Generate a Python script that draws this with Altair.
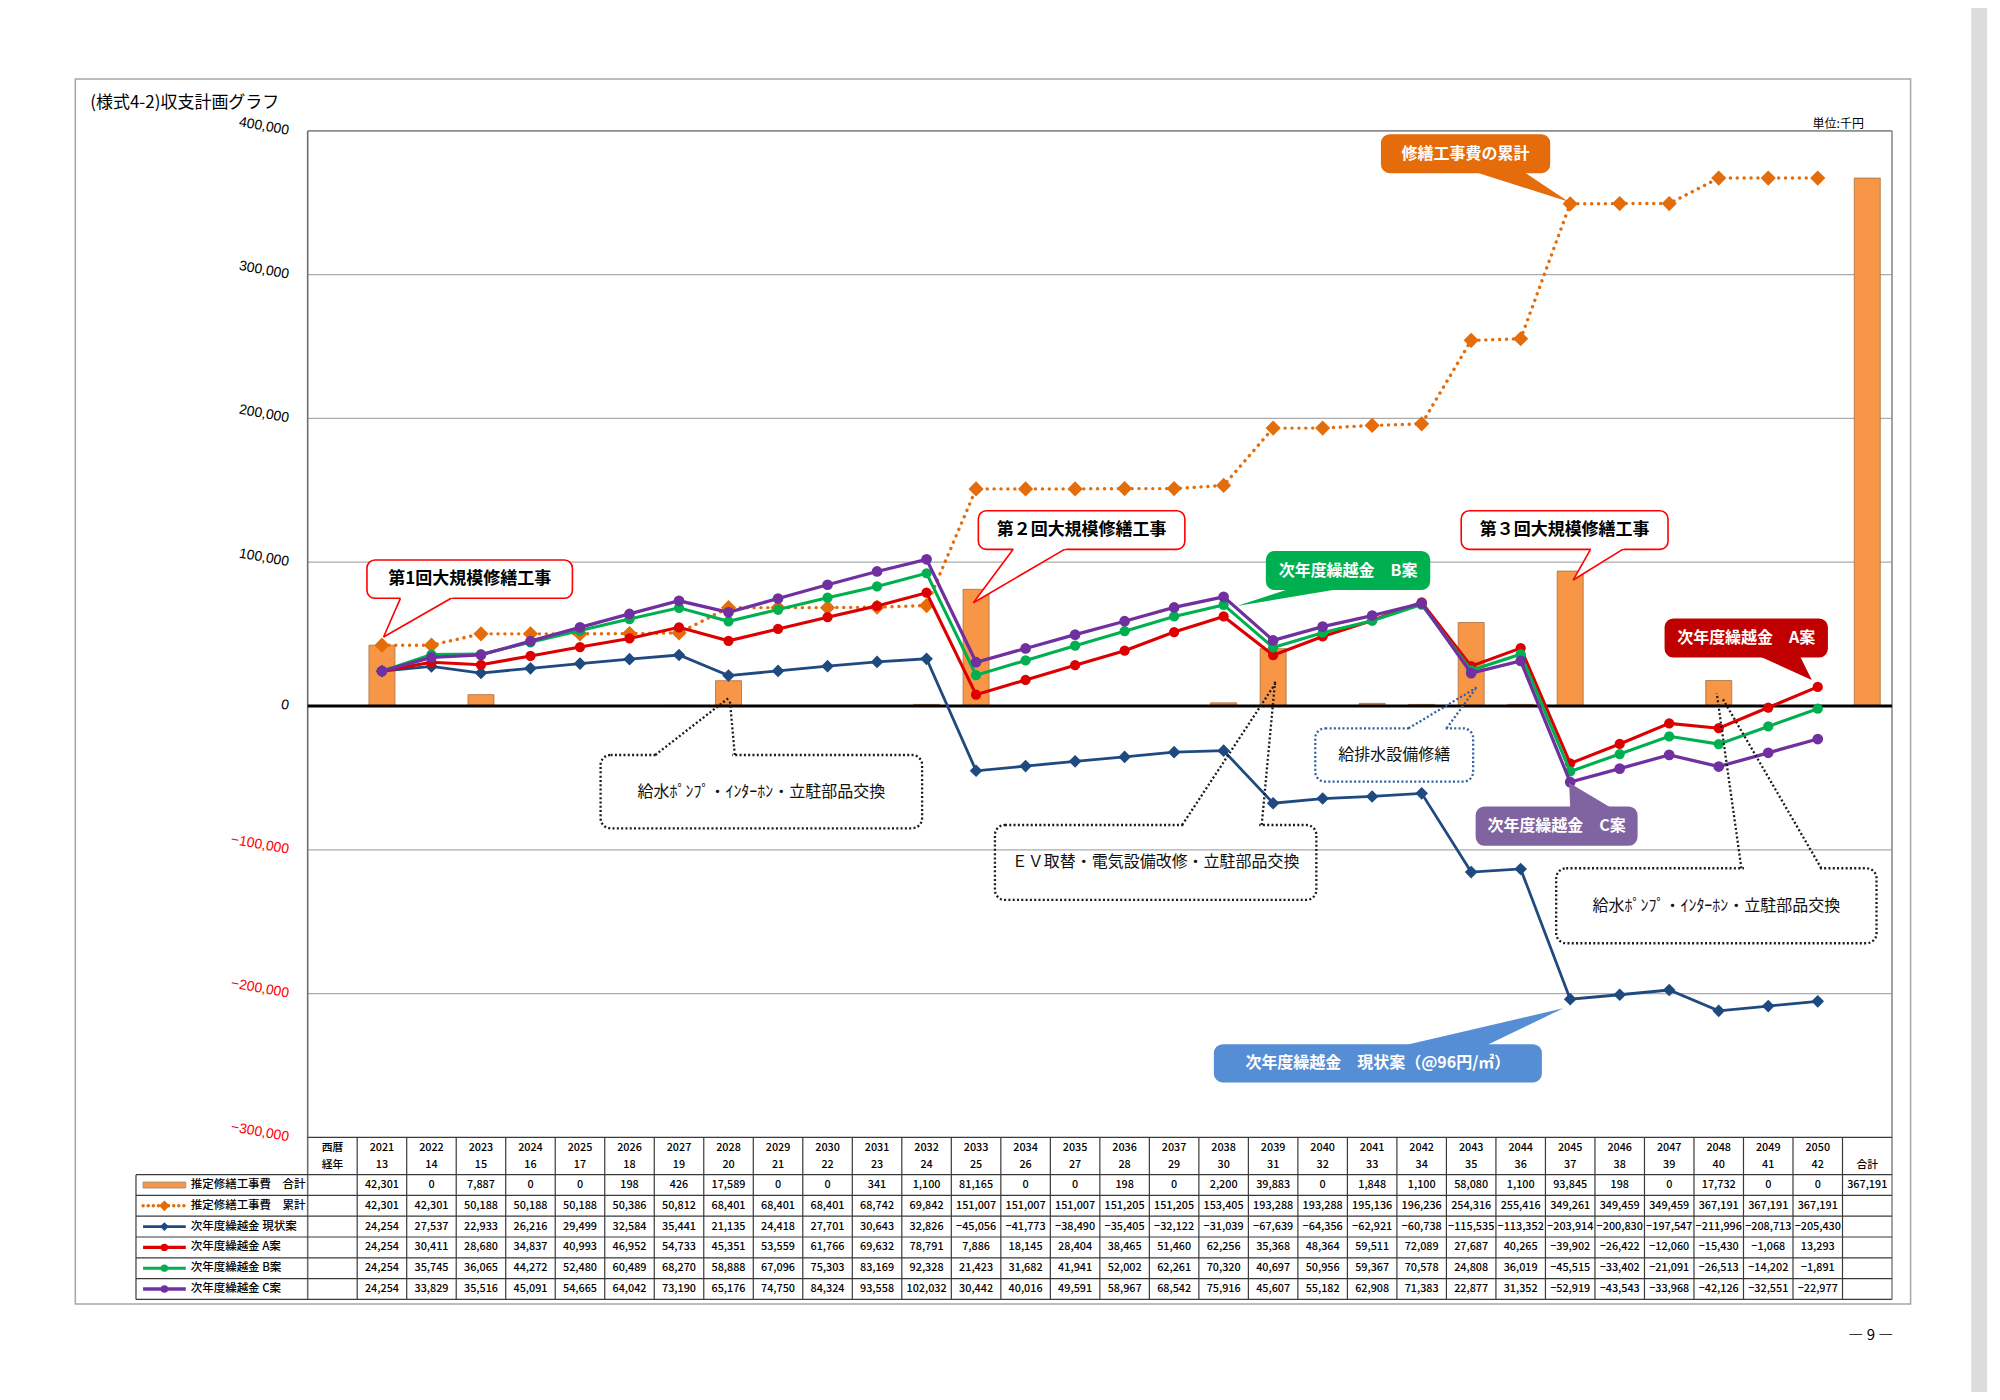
import altair as alt
import pandas as pd

# ---------------- data ----------------
years = list(range(2021, 2051))
ages = list(range(13, 43))
repair_cost = [42301, 0, 7887, 0, 0, 198, 426, 17589, 0, 0, 341, 1100, 81165, 0, 0,
               198, 0, 2200, 39883, 0, 1848, 1100, 58080, 1100, 93845, 198, 0, 17732, 0, 0]
repair_total = 367191
repair_cum = [42301, 42301, 50188, 50188, 50188, 50386, 50812, 68401, 68401, 68401,
              68742, 69842, 151007, 151007, 151007, 151205, 151205, 153405, 193288, 193288,
              195136, 196236, 254316, 255416, 349261, 349459, 349459, 367191, 367191, 367191]
carry_now = [24254, 27537, 22933, 26216, 29499, 32584, 35441, 21135, 24418, 27701,
             30643, 32826, -45056, -41773, -38490, -35405, -32122, -31039, -67639, -64356,
             -62921, -60738, -115535, -113352, -203914, -200830, -197547, -211996, -208713, -205430]
carry_a = [24254, 30411, 28680, 34837, 40993, 46952, 54733, 45351, 53559, 61766,
           69632, 78791, 7886, 18145, 28404, 38465, 51460, 62256, 35368, 48364,
           59511, 72089, 27687, 40265, -39902, -26422, -12060, -15430, -1068, 13293]
carry_b = [24254, 35745, 36065, 44272, 52480, 60489, 68270, 58888, 67096, 75303,
           83169, 92328, 21423, 31682, 41941, 52002, 62261, 70320, 40697, 50956,
           59367, 70578, 24808, 36019, -45515, -33402, -21091, -26513, -14202, -1891]
carry_c = [24254, 33829, 35516, 45091, 54665, 64042, 73190, 65176, 74750, 84324,
           93558, 102032, 30442, 40016, 49591, 58967, 68542, 75916, 45607, 55182,
           62908, 71383, 22877, 31352, -52919, -43543, -33968, -42126, -32551, -22977]
row_labels = ["推定修繕工事費　合計", "推定修繕工事費　累計", "次年度繰越金 現状案",
              "次年度繰越金 A案", "次年度繰越金 B案", "次年度繰越金 C案"]
y_ticks = [400000, 300000, 200000, 100000, 0, -100000, -200000, -300000]
grid_values = [300000, 200000, 100000, -100000, -200000]

# ---------------- layout constants ----------------
JP = "Noto Sans CJK JP"
SLOT_PX = 49.8
VPP = 100000 / 143.8          # value units per pixel
X_LEFT = -3.468
X_RIGHT = 32
Y_TOP = 400000
TABLE_TOP = -300000
HEADER_H = 37.3 * VPP
ROW_H = 20.8 * VPP
Y_BOTTOM = TABLE_TOP - HEADER_H - 6 * ROW_H
W = (X_RIGHT - X_LEFT) * SLOT_PX
H = (Y_TOP - Y_BOTTOM) / VPP

XS = alt.Scale(domain=[X_LEFT, X_RIGHT], nice=False, zero=False)
YS = alt.Scale(domain=[Y_BOTTOM, Y_TOP], nice=False, zero=False)


def sx(f):
    return alt.X(f, type="quantitative", scale=XS, axis=None)


def sy(f):
    return alt.Y(f, type="quantitative", scale=YS, axis=None)


def fmt(v):
    s = f"{abs(v):,}"
    return ("−" + s) if v < 0 else s


xc = [i + 1.5 for i in range(30)]
layers = []

# page edge shade at the right
shade_df = pd.DataFrame({"x": [33.6], "x2": [33.92], "y": [485396], "y2": [-477051]})
layers.append(alt.Chart(shade_df).mark_rect(color="#DCDCDC")
              .encode(x=sx("x"), x2=alt.X2("x2"), y=sy("y"), y2=alt.Y2("y2")))

# outer page frame
frame_df = pd.DataFrame({"x": [-4.693], "x2": [32.375], "y": [436022], "y2": [-415855]})
layers.append(alt.Chart(frame_df).mark_rect(filled=False, stroke="#A6A6A6", strokeWidth=1.5)
              .encode(x=sx("x"), x2=alt.X2("x2"), y=sy("y"), y2=alt.Y2("y2")))

# gridlines
grid_df = pd.DataFrame({"y": grid_values, "x": 0, "x2": 32})
layers.append(alt.Chart(grid_df).mark_rule(color="#ABABAB", strokeWidth=1.3)
              .encode(x=sx("x"), x2=alt.X2("x2"), y=sy("y")))

# plot borders
border_df = pd.DataFrame({
    "x": [0, 32, 0], "x2": [32, 32, 0],
    "y": [Y_TOP, Y_TOP, Y_TOP], "y2": [Y_TOP, Y_BOTTOM, Y_BOTTOM],
    "c": ["#8C8C8C", "#8C8C8C", "#6E6E6E"]})
layers.append(alt.Chart(border_df).mark_rule(strokeWidth=1.6)
              .encode(x=sx("x"), x2=alt.X2("x2"), y=sy("y"), y2=alt.Y2("y2"),
                      stroke=alt.Stroke("c:N", scale=None)))

# y tick labels (rotated, negatives in red)
tick_df = pd.DataFrame({"x": -0.38, "y": y_ticks,
                        "t": [fmt(v) for v in y_ticks],
                        "c": ["#FF0000" if v < 0 else "#000000" for v in y_ticks]})
layers.append(alt.Chart(tick_df).mark_text(font="Liberation Sans", fontSize=14, angle=10,
                                           align="right", baseline="middle")
              .encode(x=sx("x"), y=sy("y"), text="t:N", color=alt.Color("c:N", scale=None)))

# bars
bars_df = pd.DataFrame({"x": xc + [31.5], "v": repair_cost + [repair_total]})
layers.append(alt.Chart(bars_df).mark_bar(size=26, color="#F79646", stroke="#A8703F", strokeWidth=0.8)
              .encode(x=sx("x"), y=sy("v"), y2=alt.datum(0)))

# zero line
zero_df = pd.DataFrame({"x": [0], "x2": [32], "y": [0]})
layers.append(alt.Chart(zero_df).mark_rule(color="#000000", strokeWidth=3)
              .encode(x=sx("x"), x2=alt.X2("x2"), y=sy("y")))


def series(vals, color, shape, size, width, dash=None):
    df = pd.DataFrame({"x": xc, "v": vals})
    kw = dict(color=color, strokeWidth=width)
    if dash:
        kw.update(strokeDash=dash, strokeCap="round")
    ln = alt.Chart(df).mark_line(**kw).encode(x=sx("x"), y=sy("v"))
    pt = alt.Chart(df).mark_point(filled=True, shape=shape, size=size, color=color, opacity=1) \
        .encode(x=sx("x"), y=sy("v"))
    return [ln, pt]


styles = [
    (repair_cum, "#E46C0A", "diamond", 230, 3.4, [0.1, 6.8]),
    (carry_now, "#1F4A80", "diamond", 160, 2.8, None),
    (carry_a, "#DD0000", "circle", 105, 3.1, None),
    (carry_b, "#00B050", "circle", 105, 3.1, None),
    (carry_c, "#7030A0", "circle", 115, 3.3, None),
]
for s in styles:
    layers += series(*s)

# ---------------- callouts ----------------
INSET = 2.5 * VPP
callouts = [
    dict(t="第1回大規模修繕工事", x1=1.197, x2=5.347, yt=101528, yb=74895, fill="#FFFFFF",
         stroke="#FF0000", base=(1.873, 2.898), edge="bottom", tip=(1.532, 47983), tc="#000000", fs=17),
    dict(t="第２回大規模修繕工事", x1=13.546, x2=17.717, yt=135812, yb=108969, fill="#FFFFFF",
         stroke="#FF0000", base=(14.249, 15.287), edge="bottom", tip=(13.446, 71835), tc="#000000", fs=17),
    dict(t="第３回大規模修繕工事", x1=23.299, x2=27.476, yt=135812, yb=108969, fill="#FFFFFF",
         stroke="#FF0000", base=(25.91, 26.56), edge="bottom", tip=(25.56, 87620), tc="#000000", fs=17),
    dict(t="修繕工事費の累計", x1=21.693, x2=25.080, yt=397073, yb=371135, fill="#E46C0A",
         stroke="#E46C0A", base=(23.610, 24.576), edge="bottom", tip=(25.468, 350690), tc="#FFFFFF", fs=16),
    dict(t="次年度繰越金　B案", x1=19.369, x2=22.657, yt=107300, yb=81153, fill="#00B050",
         stroke="#00B050", base=(19.8, 20.8), edge="bottom", tip=(18.769, 69540), tc="#FFFFFF", fs=16),
    dict(t="次年度繰越金　A案", x1=27.422, x2=30.689, yt=60291, yb=34283, fill="#C00000",
         stroke="#C00000", base=(29.343, 30.147), edge="bottom", tip=(30.380, 18080), tc="#FFFFFF", fs=16),
    dict(t="次年度繰越金　C案", x1=23.606, x2=26.845, yt=-70444, yb=-96661, fill="#8064A2",
         stroke="#8064A2", base=(25.500, 26.307), edge="top", tip=(25.478, -53337), tc="#FFFFFF", fs=16),
    dict(t="次年度繰越金　現状案（@96円/㎡）", x1=18.319, x2=24.912, yt=-235741, yb=-261262,
         fill="#558ED5", stroke="#558ED5", base=(22.181, 23.821), edge="top", tip=(25.361, -210219),
         tc="#FFFFFF", fs=16),
]

box_rows, tri_rows, side_rows, txt_rows = [], [], [], []
for i, c in enumerate(callouts):
    box_rows.append(dict(x=c["x1"], x2=c["x2"], y=c["yt"], y2=c["yb"], f=c["fill"], s=c["stroke"]))
    ey = c["yb"] if c["edge"] == "bottom" else c["yt"]
    tx, ty = c["tip"]
    k = INSET / abs(ey - ty)
    ey2 = ey + (ey - ty) * k
    xa, xb = c["base"]
    xa2 = xa + (xa - tx) * k
    xb2 = xb + (xb - tx) * k
    tri_rows.append(dict(id=i, y=ey2, x=min(xa2, xb2), x2=max(xa2, xb2), f=c["fill"]))
    tri_rows.append(dict(id=i, y=ty, x=tx, x2=tx, f=c["fill"]))
    if c["fill"] == "#FFFFFF":
        side_rows.append(dict(x=xa, y=ey, x2=tx, y2=ty, s=c["stroke"]))
        side_rows.append(dict(x=xb, y=ey, x2=tx, y2=ty, s=c["stroke"]))
    txt_rows.append(dict(x=(c["x1"] + c["x2"]) / 2, y=(c["yt"] + c["yb"]) / 2, t=c["t"],
                         tc=c["tc"], fs=c["fs"]))

layers.append(alt.Chart(pd.DataFrame(box_rows)).mark_rect(cornerRadius=8, strokeWidth=1.6)
              .encode(x=sx("x"), x2=alt.X2("x2"), y=sy("y"), y2=alt.Y2("y2"),
                      fill=alt.Fill("f:N", scale=None), stroke=alt.Stroke("s:N", scale=None)))
layers.append(alt.Chart(pd.DataFrame(tri_rows)).mark_area(orient="horizontal")
              .encode(y=sy("y"), x=alt.X("x", type="quantitative", scale=XS, axis=None, stack=None),
                      x2=alt.X2("x2"), detail="id:N", fill=alt.Fill("f:N", scale=None)))
layers.append(alt.Chart(pd.DataFrame(side_rows)).mark_rule(strokeWidth=1.6)
              .encode(x=sx("x"), x2=alt.X2("x2"), y=sy("y"), y2=alt.Y2("y2"),
                      stroke=alt.Stroke("s:N", scale=None)))
layers.append(alt.Chart(pd.DataFrame(txt_rows)).mark_text(font=JP, fontWeight="bold", baseline="middle",
                                                           align="center")
              .encode(x=sx("x"), y=sy("y"), text="t:N", color=alt.Color("tc:N", scale=None),
                      size=alt.Size("fs:Q", scale=None)))

# dotted callouts
dboxes = [
    dict(t="給水ﾎﾟﾝﾌﾟ・ｲﾝﾀｰﾎﾝ・立駐部品交換", x1=5.916, x2=12.410, yt=-34075, yb=-85047, c="#1A1A1A",
         gap=(7.020, 8.627), tips=[(8.494, 5355), (8.526, 4172)]),
    dict(t="ＥＶ取替・電気設備改修・立駐部品交換", x1=13.881, x2=20.373, yt=-82753, yb=-134908, c="#1A1A1A",
         gap=(17.663, 19.269), tips=[(19.570, 16898), (19.538, 16898)]),
    dict(t="給排水設備修繕", x1=20.351, x2=23.540, yt=-15507, yb=-52641, c="#2E5FA3",
         gap=(22.235, 23.004), tips=[(23.618, 13004), (23.580, 11613)]),
    dict(t="給水ﾎﾟﾝﾌﾟ・ｲﾝﾀｰﾎﾝ・立駐部品交換", x1=25.217, x2=31.687, yt=-112862, yb=-165020, c="#1A1A1A",
         gap=(28.958, 30.572), tips=[(28.460, 8832), (28.574, 5355)]),
]
db_rows, gap_rows, dl_rows, dt_rows = [], [], [], []
for d in dboxes:
    db_rows.append(dict(x=d["x1"], x2=d["x2"], y=d["yt"], y2=d["yb"], s=d["c"]))
    gap_rows.append(dict(x=d["gap"][0] + 0.05, x2=d["gap"][1] - 0.05, y=d["yt"]))
    for gx, (tx, ty) in zip(d["gap"], d["tips"]):
        dl_rows.append(dict(x=gx, y=d["yt"], x2=tx, y2=ty, s=d["c"]))
    dt_rows.append(dict(x=(d["x1"] + d["x2"]) / 2, y=(d["yt"] + d["yb"]) / 2, t=d["t"]))

layers.append(alt.Chart(pd.DataFrame(db_rows)).mark_rect(filled=False, cornerRadius=10, strokeWidth=2.3,
                                                         strokeDash=[2, 2.3])
              .encode(x=sx("x"), x2=alt.X2("x2"), y=sy("y"), y2=alt.Y2("y2"),
                      stroke=alt.Stroke("s:N", scale=None)))
layers.append(alt.Chart(pd.DataFrame(gap_rows)).mark_rule(color="#FFFFFF", strokeWidth=5)
              .encode(x=sx("x"), x2=alt.X2("x2"), y=sy("y")))
layers.append(alt.Chart(pd.DataFrame(dl_rows)).mark_rule(strokeWidth=2.3, strokeDash=[2, 2.3])
              .encode(x=sx("x"), x2=alt.X2("x2"), y=sy("y"), y2=alt.Y2("y2"),
                      stroke=alt.Stroke("s:N", scale=None)))
layers.append(alt.Chart(pd.DataFrame(dt_rows)).mark_text(font=JP, fontSize=16, color="#111111",
                                                         baseline="middle", align="center")
              .encode(x=sx("x"), y=sy("y"), text="t:N"))

# ---------------- data table ----------------
HDR_BOTTOM = TABLE_TOP - HEADER_H
tl = [dict(x=0, x2=32, y=TABLE_TOP, y2=TABLE_TOP)]
for r in range(7):
    yy = HDR_BOTTOM - r * ROW_H
    tl.append(dict(x=X_LEFT, x2=32, y=yy, y2=yy))
tl.append(dict(x=X_LEFT, x2=X_LEFT, y=HDR_BOTTOM, y2=Y_BOTTOM))
for k in range(1, 32):
    tl.append(dict(x=k, x2=k, y=TABLE_TOP, y2=Y_BOTTOM))
layers.append(alt.Chart(pd.DataFrame(tl)).mark_rule(color="#3A3A3A", strokeWidth=1.2)
              .encode(x=sx("x"), x2=alt.X2("x2"), y=sy("y"), y2=alt.Y2("y2")))

L1 = TABLE_TOP - 10.4 * VPP
L2 = TABLE_TOP - 27.7 * VPP
hdr = [dict(x=0.5, y=L1, t="西暦"), dict(x=0.5, y=L2, t="経年"), dict(x=31.5, y=L2, t="合計")]
for i in range(30):
    hdr.append(dict(x=xc[i], y=L1, t=str(years[i])))
    hdr.append(dict(x=xc[i], y=L2, t=str(ages[i])))
rows = [repair_cost, repair_cum, carry_now, carry_a, carry_b, carry_c]


def row_y(r):
    return HDR_BOTTOM - (r + 0.5) * ROW_H


cells = []
for r, vals in enumerate(rows):
    for i, v in enumerate(vals):
        cells.append(dict(x=xc[i], y=row_y(r), t=fmt(v)))
cells.append(dict(x=31.5, y=row_y(0), t=fmt(repair_total)))
layers.append(alt.Chart(pd.DataFrame(hdr + cells)).mark_text(font=JP, fontSize=10.8, color="#000000",
                                                              fontWeight=500, baseline="middle",
                                                              align="center")
              .encode(x=sx("x"), y=sy("y"), text="t:N"))

# legend column
SYM_X1, SYM_X2, SYM_XC, LAB_X = -3.325, -2.462, -2.894, -2.363
lab_df = pd.DataFrame({"x": LAB_X, "y": [row_y(r) for r in range(6)], "t": row_labels})
layers.append(alt.Chart(lab_df).mark_text(font=JP, fontSize=11.5, fontWeight=500, color="#000000",
                                          baseline="middle", align="left")
              .encode(x=sx("x"), y=sy("y"), text="t:N"))
sym_bar = pd.DataFrame({"x": [SYM_X1], "x2": [SYM_X2], "y": [row_y(0) + 3 * VPP], "y2": [row_y(0) - 3 * VPP]})
layers.append(alt.Chart(sym_bar).mark_rect(color="#F79646", stroke="#8E8E8E", strokeWidth=0.8)
              .encode(x=sx("x"), x2=alt.X2("x2"), y=sy("y"), y2=alt.Y2("y2")))
for r, (vals, color, shape, size, width, dash) in enumerate(styles, start=1):
    d = pd.DataFrame({"x": [SYM_X1], "x2": [SYM_X2], "y": [row_y(r)], "xc": [SYM_XC]})
    kw = dict(color=color, strokeWidth=width)
    if dash:
        kw.update(strokeDash=[0.1, 5], strokeCap="round")
    layers.append(alt.Chart(d).mark_rule(**kw).encode(x=sx("x"), x2=alt.X2("x2"), y=sy("y")))
    layers.append(alt.Chart(d).mark_point(filled=True, shape=shape, size=size * 0.5, color=color, opacity=1)
                  .encode(x=sx("xc"), y=sy("y")))

# ---------------- page texts ----------------
misc = pd.DataFrame([
    dict(x=-4.392, y=419114, t="(様式4-2)収支計画グラフ", a="left", fs=17),
    dict(x=31.432, y=404723, t="単位:千円", a="right", fs=12),
    dict(x=31.572, y=-437410, t="― 9 ―", a="center", fs=15),
])
for _, m in misc.iterrows():
    layers.append(alt.Chart(pd.DataFrame([m])).mark_text(font=JP, fontSize=m["fs"], color="#000000",
                                                         baseline="middle", align=m["a"])
                  .encode(x=sx("x"), y=sy("y"), text="t:N"))

chart = alt.layer(*layers).properties(
    width=W, height=H,
    autosize=alt.AutoSizeParams(type="none"),
    padding={"left": 123, "top": 122.8, "right": 95, "bottom": 93},
    background="#FFFFFF",
).configure_view(stroke=None)

chart.save("out.html", embed_options={"renderer": "svg", "actions": False})
